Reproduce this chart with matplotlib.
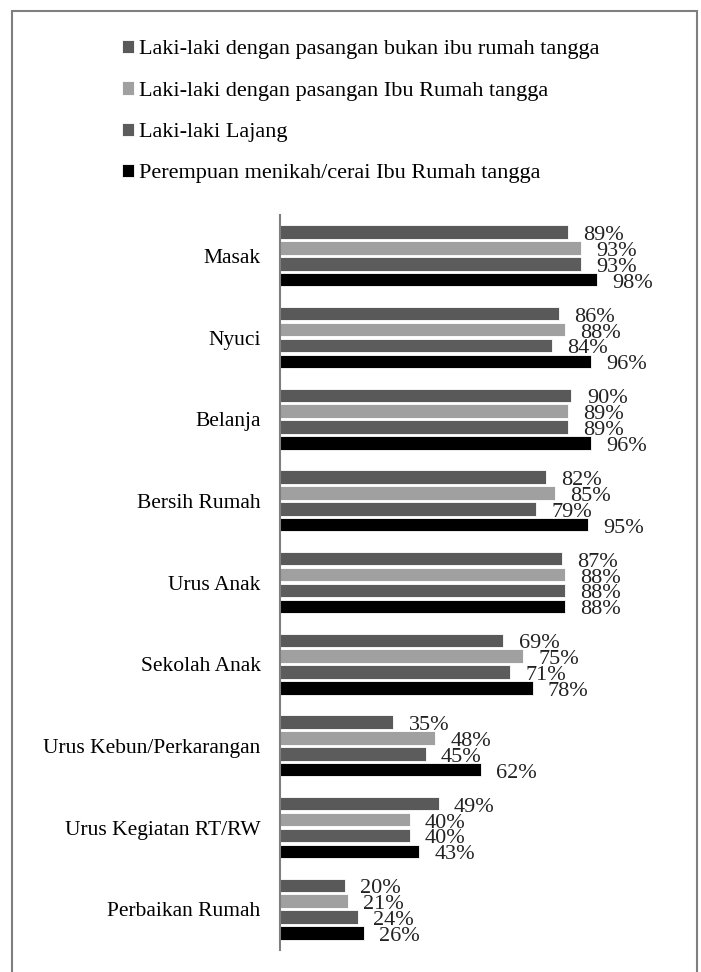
import numpy as np
import matplotlib.pyplot as plt
from matplotlib.patches import Rectangle

plt.rcParams['font.family'] = ['Liberation Serif', 'DejaVu Serif']

categories = ['Masak', 'Nyuci', 'Belanja', 'Bersih Rumah', 'Urus Anak', 'Sekolah Anak',
              'Urus Kebun/Perkarangan', 'Urus Kegiatan RT/RW', 'Perbaikan Rumah']
series_names = ['Laki-laki dengan pasangan bukan ibu rumah tangga',
                'Laki-laki dengan pasangan Ibu Rumah tangga',
                'Laki-laki Lajang',
                'Perempuan menikah/cerai Ibu Rumah tangga']
bukan_irt = [89, 86, 90, 82, 87, 69, 35, 49, 20]
dengan_irt = [93, 88, 89, 85, 88, 75, 48, 40, 21]
lajang = [93, 84, 89, 79, 88, 71, 45, 40, 24]
perempuan = [98, 96, 96, 95, 88, 78, 62, 43, 26]
colors = ['#595959', '#a0a0a0', '#5c5c5c', '#000000']

values = [bukan_irt, dengan_irt, lajang, perempuan]

fig = plt.figure(figsize=(7.01, 9.72), dpi=100)
# gray frame around the chart
fig.patches.append(Rectangle((12 / 701, -0.01), 685 / 701, 1 - 11 / 972 + 0.01,
                             transform=fig.transFigure, fill=False,
                             edgecolor='#7f7f7f', linewidth=1.5))

ax = fig.add_axes([280 / 701, 1 - 950 / 972, 400 / 701, 735 / 972])

y = np.arange(len(categories))
pitch = 0.195
handles = []
for i, (vals, col) in enumerate(zip(values, colors)):
    pos = y - 1.5 * pitch + i * pitch
    bars = ax.barh(pos, vals, height=0.165, color=col, edgecolor='white', linewidth=0.6)
    handles.append(bars)
    for b, v in zip(bars, vals):
        ax.annotate(f'{v}%', (b.get_width(), b.get_y() + b.get_height() / 2),
                    xytext=(11, -2.5), textcoords='offset points',
                    ha='left', va='center', fontsize=16, color='#222222')

ax.set_xlim(0, 123.5)
ax.set_ylim(8.5, -0.5)
ax.set_yticks(y)
ax.set_yticklabels(categories, fontsize=15.5)
ax.tick_params(axis='y', length=0, pad=14)
ax.set_xticks([])
for s in ['top', 'right', 'bottom']:
    ax.spines[s].set_visible(False)
ax.spines['left'].set_color('#7f7f7f')
ax.spines['left'].set_linewidth(1.5)

fig.legend(handles, series_names, loc='upper left', bbox_to_anchor=(113 / 701, 1 - 31 / 972),
           frameon=False, fontsize=16, handlelength=0.55, handleheight=0.55,
           handletextpad=0.2, labelspacing=0.98, borderaxespad=0)

fig.savefig('out.png', dpi=100)
